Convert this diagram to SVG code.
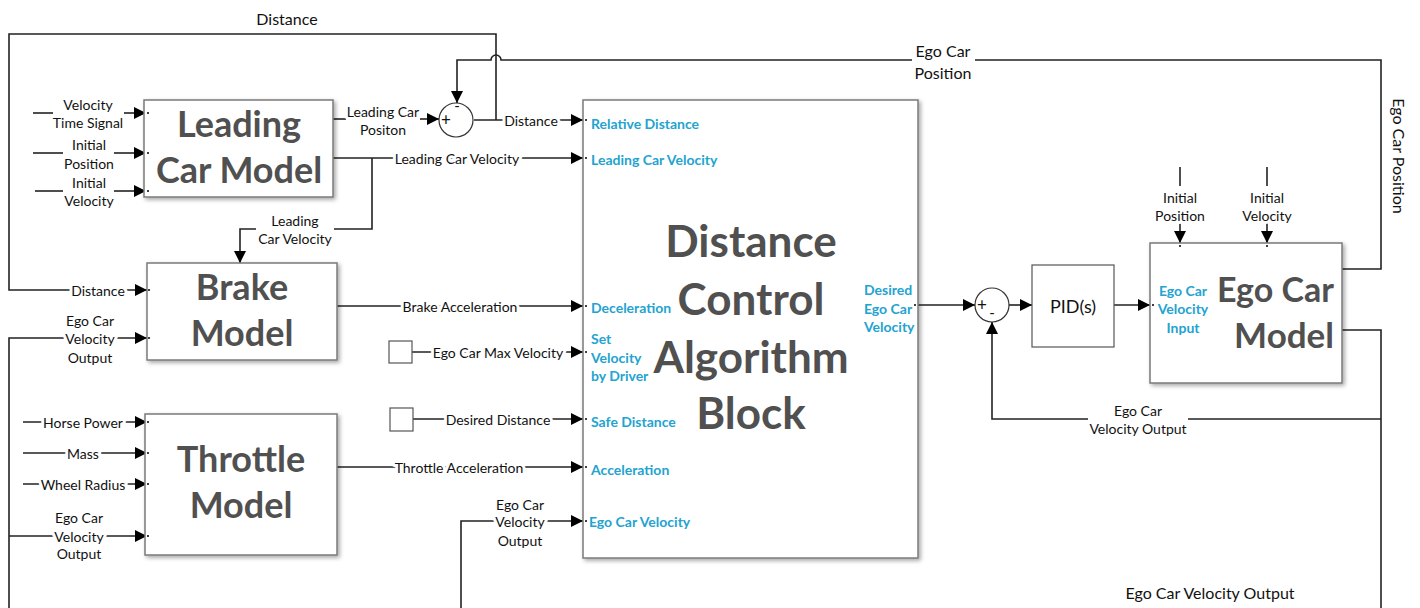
<svg xmlns="http://www.w3.org/2000/svg" width="1420" height="608" viewBox="0 0 1420 608">
<defs>
<marker id="ar" markerUnits="userSpaceOnUse" markerWidth="13" markerHeight="13" refX="12" refY="6.5" orient="auto">
<path d="M0,0.5 L12,6.5 L0,12.5 Z" fill="#000"/>
</marker>
<filter id="sh" x="-10%" y="-10%" width="120%" height="120%">
<feDropShadow dx="2" dy="2" stdDeviation="2" flood-color="#000" flood-opacity="0.35"/>
</filter>
<style>
.box{fill:#fff;stroke:#7a7a7a;stroke-width:1.5}
.plain{fill:#fff;stroke:#555;stroke-width:1.2}
.ln{fill:none;stroke:#222;stroke-width:1.6}
.arr{marker-end:url(#ar)}
text{font-family:Lato,"Open Sans","Liberation Sans",sans-serif;fill:#111}
.lbl{font-size:14px;text-anchor:middle;dominant-baseline:central;stroke:#fff;stroke-width:6;paint-order:stroke;stroke-linejoin:round}
.big{font-size:36px;font-weight:bold;fill:#505050;text-anchor:middle}
.huge{font-size:44px;font-weight:bold;fill:#505050;text-anchor:middle}
.port{font-size:14px;font-weight:bold;fill:#23a3d0;dominant-baseline:central}
.mid{font-size:16px;text-anchor:middle;dominant-baseline:central}
.dot{fill:#000}
</style>
</defs>

<g id="connectors">
<path class="ln arr" d="M496,120 V34 H9 V290 H147"/>
<path class="ln arr" d="M474,120 H583"/>
<path class="ln" d="M1342,269 H1381 V60 H975"/>
<path class="ln arr" d="M912,60 H501 A5,5 0 0 0 491,60 H457 V103"/>
<path class="ln" d="M333,119 H346"/>
<path class="ln arr" d="M420,119 H439"/>
<path class="ln arr" d="M333,158 H583"/>
<path class="ln" d="M372,158 V229 H334"/>
<path class="ln arr" d="M256,229 H240 V263"/>
<path class="ln arr" d="M9,608 V338 H147"/>
<path class="ln arr" d="M9,536 H147"/>
<path class="ln arr" d="M337,306 H583"/>
<path class="ln arr" d="M337,467 H583"/>
<path class="ln arr" d="M412,352 H583"/>
<path class="ln arr" d="M413,419 H583"/>
<path class="ln arr" d="M461,608 V521 H583"/>
<path class="ln arr" d="M23,422 H147"/>
<path class="ln arr" d="M23,453 H147"/>
<path class="ln arr" d="M23,484 H147"/>
<path class="ln" d="M33,113 H53"/>
<path class="ln arr" d="M124,113 H146"/>
<path class="ln" d="M33,153 H63"/>
<path class="ln arr" d="M114,153 H146"/>
<path class="ln" d="M35,191 H63"/>
<path class="ln arr" d="M114,191 H146"/>
<path class="ln arr" d="M918,305 H975"/>
<path class="ln arr" d="M1009,305 H1032"/>
<path class="ln arr" d="M1114,305 H1150"/>
<path class="ln" d="M1342,330 H1381 V608"/>
<path class="ln" d="M1381,419 H1188"/>
<path class="ln arr" d="M1088,419 H992 V322"/>
<path class="ln" d="M1180,167 V186"/>
<path class="ln arr" d="M1180,223 V243"/>
<path class="ln" d="M1267,167 V186"/>
<path class="ln arr" d="M1267,223 V243"/>

<text class="mid" x="287" y="18">Distance</text>
<text class="lbl" x="531" y="120">Distance</text>
<text class="lbl" x="98" y="290">Distance</text>
<text class="mid" x="943" y="50">Ego Car</text>
<text class="mid" x="943" y="72">Position</text>
<text class="mid" x="1399" y="156" transform="rotate(90 1399 156)">Ego Car Position</text>
<text class="lbl" x="383" y="111">Leading Car</text>
<text class="lbl" x="383" y="129">Positon</text>
<text class="lbl" x="457" y="158">Leading Car Velocity</text>
<text class="lbl" x="295" y="220">Leading</text>
<text class="lbl" x="295" y="238">Car Velocity</text>
<text class="lbl" x="88" y="104">Velocity</text>
<text class="lbl" x="88" y="122">Time Signal</text>
<text class="lbl" x="89" y="144">Initial</text>
<text class="lbl" x="89" y="163">Position</text>
<text class="lbl" x="89" y="182">Initial</text>
<text class="lbl" x="89" y="200">Velocity</text>
<text class="lbl" x="90" y="320">Ego Car</text>
<text class="lbl" x="90" y="338">Velocity</text>
<text class="lbl" x="90" y="357">Output</text>
<text class="lbl" x="460" y="306">Brake Acceleration</text>
<text class="lbl" x="498" y="352">Ego Car Max Velocity</text>
<text class="lbl" x="498" y="419">Desired Distance</text>
<text class="lbl" x="459" y="467">Throttle Acceleration</text>
<text class="lbl" x="520" y="504">Ego Car</text>
<text class="lbl" x="520" y="521">Velocity</text>
<text class="lbl" x="520" y="540">Output</text>
<text class="lbl" x="83" y="422">Horse Power</text>
<text class="lbl" x="83" y="453">Mass</text>
<text class="lbl" x="83" y="484">Wheel Radius</text>
<text class="lbl" x="79" y="517">Ego Car</text>
<text class="lbl" x="79" y="536">Velocity</text>
<text class="lbl" x="79" y="553">Output</text>
<text class="lbl" x="1138" y="410">Ego Car</text>
<text class="lbl" x="1138" y="428">Velocity Output</text>
<text class="lbl" x="1180" y="197">Initial</text>
<text class="lbl" x="1180" y="215">Position</text>
<text class="lbl" x="1267" y="197">Initial</text>
<text class="lbl" x="1267" y="215">Velocity</text>
<text class="mid" x="1210" y="592">Ego Car Velocity Output</text>
</g>

<g id="leading-car-model">
<rect class="box" filter="url(#sh)" x="144" y="100" width="189" height="97"/>
<text class="big" x="239" y="137">Leading</text>
<text class="big" x="239" y="183">Car Model</text>
<circle class="dot" cx="148" cy="113" r="1"/><circle class="dot" cx="148" cy="153" r="1"/><circle class="dot" cx="148" cy="191" r="1"/>
</g>

<g id="sum1">
<circle cx="456" cy="120" r="17" fill="#fff" stroke="#333" stroke-width="1.2"/>
<text x="446" y="126" style="font-size:17px" text-anchor="middle">+</text>
<text x="457" y="111" style="font-size:15px" text-anchor="middle">-</text>
</g>

<g id="brake-model">
<rect class="box" filter="url(#sh)" x="147" y="263" width="190" height="97"/>
<text class="big" x="242" y="300">Brake</text>
<text class="big" x="242" y="346">Model</text>
<circle class="dot" cx="149" cy="290" r="1"/><circle class="dot" cx="149" cy="338" r="1"/>
</g>

<g id="throttle-model">
<rect class="box" filter="url(#sh)" x="145" y="414" width="192" height="141"/>
<text class="big" x="241" y="472">Throttle</text>
<text class="big" x="241" y="518">Model</text>
<circle class="dot" cx="148" cy="422" r="1"/><circle class="dot" cx="148" cy="453" r="1"/><circle class="dot" cx="148" cy="484" r="1"/><circle class="dot" cx="148" cy="536" r="1"/>
</g>

<g id="max-velocity-const">
<rect class="plain" x="389" y="341" width="23" height="22"/>
</g>
<g id="desired-distance-const">
<rect class="plain" x="390" y="408" width="23" height="23"/>
</g>

<g id="distance-control-algorithm-block">
<rect class="box" filter="url(#sh)" x="583" y="100" width="335" height="458"/>
<text class="huge" x="751" y="257">Distance</text>
<text class="huge" x="751" y="315">Control</text>
<text class="huge" x="751" y="373">Algorithm</text>
<text class="huge" x="751" y="429">Block</text>
<text class="port" x="591" y="123">Relative Distance</text>
<text class="port" x="591" y="159">Leading Car Velocity</text>
<text class="port" x="591" y="307">Deceleration</text>
<text class="port" x="591" y="338">Set</text>
<text class="port" x="591" y="357">Velocity</text>
<text class="port" x="591" y="375">by Driver</text>
<text class="port" x="591" y="421">Safe Distance</text>
<text class="port" x="591" y="469">Acceleration</text>
<text class="port" x="589" y="521">Ego Car Velocity</text>
<text class="port" x="864" y="289">Desired</text>
<text class="port" x="864" y="308">Ego Car</text>
<text class="port" x="864" y="326">Velocity</text>
<circle class="dot" cx="586" cy="120" r="1"/><circle class="dot" cx="586" cy="158" r="1"/><circle class="dot" cx="586" cy="306" r="1"/><circle class="dot" cx="586" cy="352" r="1"/><circle class="dot" cx="586" cy="419" r="1"/><circle class="dot" cx="586" cy="467" r="1"/><circle class="dot" cx="586" cy="521" r="1"/><circle class="dot" cx="915" cy="305" r="1"/>
</g>

<g id="sum2">
<circle cx="992" cy="305" r="17" fill="#fff" stroke="#333" stroke-width="1.2"/>
<text x="982" y="311" style="font-size:17px" text-anchor="middle">+</text>
<text x="992" y="318" style="font-size:15px" text-anchor="middle">-</text>
</g>

<g id="pid">
<rect class="plain" x="1032" y="265" width="82" height="82"/>
<text class="mid" x="1073" y="306" style="font-size:18px">PID(s)</text>
</g>

<g id="ego-car-model">
<rect class="box" filter="url(#sh)" x="1150" y="243" width="192" height="140"/>
<text class="big" x="1334" y="302" style="text-anchor:end;font-size:34px">Ego Car</text>
<text class="big" x="1334" y="348" style="text-anchor:end;font-size:35px">Model</text>
<text class="port" x="1183" y="290" style="text-anchor:middle">Ego Car</text>
<text class="port" x="1183" y="308" style="text-anchor:middle">Velocity</text>
<text class="port" x="1183" y="327" style="text-anchor:middle">Input</text>
<circle class="dot" cx="1153" cy="305" r="1"/><circle class="dot" cx="1180" cy="246" r="1"/><circle class="dot" cx="1267" cy="246" r="1"/>
</g>
</svg>
